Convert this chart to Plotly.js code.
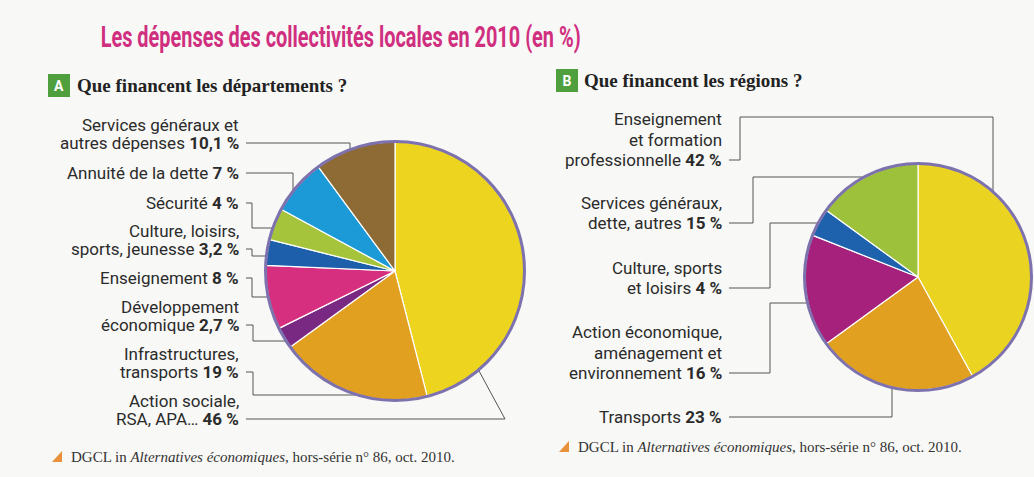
<!DOCTYPE html>
<html>
<head>
<meta charset="utf-8">
<script src="https://cdn.plot.ly/plotly-3.0.1.min.js"></script>
<style>
html,body{margin:0;padding:0;background:#F8F8F6;}
#chart{width:1034px;height:477px;}
</style>
</head>
<body>
<div id="chart"></div>
<script>
// ---------------- DATA ----------------
const chartTitle = "Les dépenses des collectivités locales en 2010 (en %)";
const deptTitle = "Que financent les départements ?";
const regTitle = "Que financent les régions ?";
const sourceText = "DGCL in <i>Alternatives économiques</i>, hors-série n° 86, oct. 2010.";

// Départements (clockwise from 12 o'clock)
const deptCategories = ["Action sociale, RSA, APA…", "Infrastructures, transports", "Développement économique",
  "Enseignement", "Culture, loisirs, sports, jeunesse", "Sécurité", "Annuité de la dette", "Services généraux et autres dépenses"];
const deptLabelLines = [["Action sociale,", "RSA, APA…"], ["Infrastructures,", "transports"], ["Développement", "économique"],
  ["Enseignement"], ["Culture, loisirs,", "sports, jeunesse"], ["Sécurité"], ["Annuité de la dette"], ["Services généraux et", "autres dépenses"]];
const deptValues = [46, 19, 2.7, 8, 3.2, 4, 7, 10.1];

// Régions (clockwise from 12 o'clock)
const regCategories = ["Enseignement et formation professionnelle", "Transports", "Action économique, aménagement et environnement",
  "Culture, sports et loisirs", "Services généraux, dette, autres"];
const regLabelLines = [["Enseignement", "et formation", "professionnelle"], ["Transports"], ["Action économique,", "aménagement et", "environnement"],
  ["Culture, sports", "et loisirs"], ["Services généraux,", "dette, autres"]];
const regValues = [42, 23, 16, 4, 15];

// ---------------- STYLE / LAYOUT ----------------
const W = 1034, H = 477;
const X = px => px / W;
const Y = py => 1 - py / H;

const deptColors = ["#ECD41F", "#E2A021", "#7A2983", "#D72F7F", "#1D5FAA", "#A5C43B", "#1C9AD8", "#8E6B35"];
const regColors = ["#EAD421", "#E2A021", "#A5217B", "#1E62AD", "#9DC13B"];
const ringColor = "#7D71AE";
const lineColor = "#555555";
const textColor = "#2b2b2b";
const labelFont = 'Roboto, "DejaVu Sans", sans-serif';
const serifFont = '"Liberation Serif", "DejaVu Serif", serif';

const pieA = {cx: 395, cy: 271, r: 129, labelRight: 241, lineStart: 246, spacing: 18};
const pieB = {cx: 918, cy: 277, r: 113, labelRight: 724, lineStart: 729, spacing: 20.5};

// last-line centre y of each label, and leader routes (in slice order)
const deptLabelY = [419, 372, 325, 278, 249, 203, 173, 143];
const deptRoutes = [
  [{h: 505}, {edgeAt: 139.8}],
  [{h: 253}, {v: 395}, {edgeH: 1}],
  [{h: 253}, {v: 341}, {edgeH: 1}],
  [{h: 252}, {v: 297}, {edgeH: 1}],
  [{h: 252}, {v: 256}, {edgeH: 1}],
  [{h: 252}, {v: 228}, {edgeH: 1}],
  [{h: 293}, {edgeV: 1}],
  [{h: 350}, {edgeV: 1}]
];
const regLabelY = [160, 417, 373, 288, 223];
const regRoutes = [
  [{h: 740}, {v: 117}, {h: 993}, {edgeV: 1}],
  [{h: 892}, {edgeV: 1}],
  [{h: 770}, {v: 303}, {edgeH: 1}],
  [{h: 770}, {v: 223}, {edgeH: 1}],
  [{h: 753}, {v: 177}, {edgeH: 1}]
];

function fmt(v) { return String(v).replace('.', ',') + '\u00a0%'; }

function domainOf(p) {
  return {x: [X(p.cx - p.r), X(p.cx + p.r)], y: [Y(p.cy + p.r), Y(p.cy - p.r)]};
}

function routePath(p, y0, route) {
  let x = p.lineStart, y = y0;
  let d = 'M' + X(x) + ',' + Y(y);
  route.forEach(s => {
    if (s.h !== undefined) { x = s.h; }
    else if (s.v !== undefined) { y = s.v; }
    else if (s.edgeH) { x = p.cx - Math.sqrt(p.r * p.r - (y - p.cy) * (y - p.cy)); }
    else if (s.edgeV) {
      const dy = Math.sqrt(p.r * p.r - (x - p.cx) * (x - p.cx));
      y = (y < p.cy) ? p.cy - dy : p.cy + dy;
    }
    else if (s.edgeAt !== undefined) {
      const a = s.edgeAt * Math.PI / 180;
      x = p.cx + p.r * Math.sin(a); y = p.cy - p.r * Math.cos(a);
    }
    d += ' L' + X(x) + ',' + Y(y);
  });
  return d;
}

const shapes = [];
const annotations = [];

// Title (index 0)
annotations.push({
  text: chartTitle, x: X(340), y: Y(37), xref: 'paper', yref: 'paper', xanchor: 'center', yanchor: 'middle',
  showarrow: false, font: {family: 'Roboto, "DejaVu Sans", sans-serif', size: 29, color: '#D02F80', weight: 700}
});

function addLabels(p, lines, values, ys, routes) {
  lines.forEach((ls, i) => {
    const n = ls.length;
    ls.forEach((t, j) => {
      const txt = (j === n - 1) ? t + ' <b>' + fmt(values[i]) + '</b>' : t;
      annotations.push({
        text: txt, x: X(p.labelRight), y: Y(ys[i] - (n - 1 - j) * p.spacing), xref: 'paper', yref: 'paper',
        xanchor: 'right', yanchor: 'middle', showarrow: false,
        font: {family: labelFont, size: 17, color: textColor}
      });
    });
    shapes.push({type: 'path', xref: 'paper', yref: 'paper', path: routePath(p, ys[i], routes[i]),
      line: {color: lineColor, width: 1}, layer: 'above'});
  });
}
addLabels(pieA, deptLabelLines, deptValues, deptLabelY, deptRoutes);
addLabels(pieB, regLabelLines, regValues, regLabelY, regRoutes);

// Rings around the pies
[pieA, pieB].forEach(p => {
  shapes.push({type: 'circle', xref: 'paper', yref: 'paper',
    x0: X(p.cx - p.r - 0.5), x1: X(p.cx + p.r + 0.5), y0: Y(p.cy + p.r + 0.5), y1: Y(p.cy - p.r - 0.5),
    line: {color: ringColor, width: 3}, layer: 'above'});
});

// Sub-titles with badges
function badge(letter, cx, cy) {
  annotations.push({text: '<b>' + letter + '</b>', x: X(cx), y: Y(cy), xref: 'paper', yref: 'paper',
    xanchor: 'center', yanchor: 'middle', showarrow: false, width: 18, height: 19, borderpad: 2,
    bgcolor: '#4F9F3F', bordercolor: '#4F9F3F', borderwidth: 0,
    font: {family: 'Roboto, sans-serif', size: 14, color: '#ffffff'}});
}
badge('A', 59, 85);
badge('B', 567, 81);
annotations.push({text: '<b>' + deptTitle + '</b>', x: X(75), y: Y(85), xref: 'paper', yref: 'paper', xanchor: 'left', yanchor: 'middle',
  showarrow: false, font: {family: serifFont, size: 19, color: '#222'}});
annotations.push({text: '<b>' + regTitle + '</b>', x: X(582), y: Y(80), xref: 'paper', yref: 'paper', xanchor: 'left', yanchor: 'middle',
  showarrow: false, font: {family: serifFont, size: 19, color: '#222'}});

// Sources with orange triangles
[[69, 457, 52], [576, 447, 559]].forEach(s => {
  annotations.push({text: sourceText, x: X(s[0]), y: Y(s[1]), xref: 'paper', yref: 'paper', xanchor: 'left', yanchor: 'middle',
    showarrow: false, font: {family: serifFont, size: 15, color: '#333'}});
  const tx = s[2], ty = s[1];
  shapes.push({type: 'path', xref: 'paper', yref: 'paper',
    path: 'M' + X(tx) + ',' + Y(ty + 5) + ' L' + X(tx + 10) + ',' + Y(ty + 5) + ' L' + X(tx + 10) + ',' + Y(ty - 6) + ' Z',
    fillcolor: '#E8913A', line: {width: 0}});
});

const traces = [
  {type: 'pie', labels: deptCategories, values: deptValues, sort: false, direction: 'clockwise', rotation: 0,
   marker: {colors: deptColors, line: {color: '#ffffff', width: 1.2}}, textinfo: 'none', hoverinfo: 'label+value',
   domain: domainOf(pieA), showlegend: false},
  {type: 'pie', labels: regCategories, values: regValues, sort: false, direction: 'clockwise', rotation: 0,
   marker: {colors: regColors, line: {color: '#ffffff', width: 1.2}}, textinfo: 'none', hoverinfo: 'label+value',
   domain: domainOf(pieB), showlegend: false}
];

const layout = {
  width: W, height: H, margin: {l: 0, r: 0, t: 0, b: 0},
  paper_bgcolor: '#F8F8F6', plot_bgcolor: '#F8F8F6',
  showlegend: false, shapes: shapes, annotations: annotations
};

Plotly.newPlot('chart', traces, layout, {displayModeBar: false, staticPlot: true}).then(() => {
  const t = document.querySelector('.annotation[data-index="0"] text.annotation-text');
  if (t) { t.setAttribute('textLength', 480); t.setAttribute('lengthAdjust', 'spacingAndGlyphs'); }
});
</script>
</body>
</html>
